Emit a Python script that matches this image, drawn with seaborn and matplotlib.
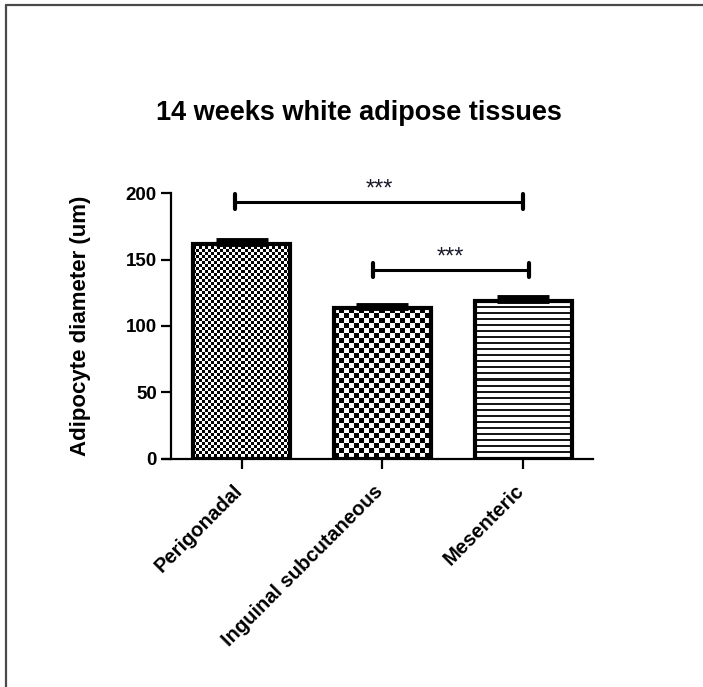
import numpy as np
import pandas as pd
import matplotlib
matplotlib.use("Agg")
import matplotlib.pyplot as plt
from matplotlib.lines import Line2D
from matplotlib.transforms import ScaledTranslation
import seaborn as sns

# Mean adipocyte diameter (um) and SEM per depot
tissues = ["Perigonadal", "Inguinal subcutaneous", "Mesenteric"]
diameter_mean = [162.0, 113.5, 119.0]
diameter_sem = [2.5, 2.0, 2.8]
patterns = ["fine_check", "coarse_check", "hstripe"]

# Significance brackets: (left x, right x, height, label)
brackets = [(-0.05, 2.0, 193.5, "***"), (0.93, 2.04, 142.0, "***")]

sns.set_theme(style="white")
plt.rcParams["font.family"] = ["Liberation Sans", "DejaVu Sans"]
plt.rcParams["font.weight"] = "bold"
for key in ("text.color", "axes.labelcolor", "xtick.color", "ytick.color"):
    plt.rcParams[key] = "black"

fig = plt.figure(figsize=(7.03, 6.87), dpi=100)
ax = fig.add_axes([0.243, 0.332, 0.601, 0.387])

df = pd.DataFrame({"tissue": tissues, "diameter": diameter_mean})
sns.barplot(data=df, x="tissue", y="diameter", ax=ax, width=0.69,
            color="white", edgecolor="black", linewidth=3, errorbar=None,
            zorder=3)

ax.set_xlim(-0.505, 2.5)
ax.set_ylim(0, 200)
ax.set_yticks([0, 50, 100, 150, 200])

fig.canvas.draw()


def pattern_array(kind, h, w):
    yy, xx = np.mgrid[0:h, 0:w]
    if kind == "fine_check":
        c = 3
        return (((xx // c) + (yy // c)) % 2).astype(float)
    if kind == "coarse_check":
        c = 5
        return (((xx // c) + (yy // c)) % 2).astype(float)
    # horizontal stripes: 2 px dark every 6 px
    return ((yy % 6) < 2).astype(float) * 0.9


for bar, kind in zip(ax.patches, patterns):
    x0, y0 = bar.get_x(), bar.get_y()
    x1, y1 = x0 + bar.get_width(), y0 + bar.get_height()
    (px0, py0), (px1, py1) = ax.transData.transform([(x0, y0), (x1, y1)])
    w = max(int(round(px1 - px0)), 1)
    h = max(int(round(py1 - py0)), 1)
    arr = pattern_array(kind, h, w)
    im = ax.imshow(arr, cmap="gray_r", vmin=0, vmax=1, extent=(x0, x1, y0, y1),
                   origin="upper", interpolation="nearest", aspect="auto",
                   zorder=2)
    im.set_clip_path(bar)
    bar.set_facecolor("none")

ax.set_xlim(-0.505, 2.5)
ax.set_ylim(0, 200)

# Upper SEM whiskers
ax.errorbar(range(len(tissues)), diameter_mean,
            yerr=[np.zeros(len(diameter_sem)), diameter_sem],
            fmt="none", ecolor="black", elinewidth=3, capsize=19,
            capthick=3.5, zorder=4)

for xl, xr, yb, lab in brackets:
    ax.plot([xl, xr], [yb, yb], color="black", lw=2.2, clip_on=False,
            solid_capstyle="butt", zorder=5)
    for xe in (xl, xr):
        ax.plot([xe, xe], [yb - 5.5, yb + 5.5], color="black", lw=3,
                clip_on=False, solid_capstyle="round", zorder=5)
    ax.text((xl + xr) / 2, yb + 1, lab, ha="center", va="bottom",
            fontsize=17, fontweight="normal", color="#1a1a2a")

sns.despine(ax=ax)
for side in ("left", "bottom"):
    ax.spines[side].set_linewidth(1.6)
    ax.spines[side].set_color("black")
ax.spines["bottom"].set_bounds(-0.56, 2.5)

ax.tick_params(axis="y", direction="out", length=7, width=1.6, pad=3,
               labelsize=13.5, left=True)
ax.tick_params(axis="x", direction="out", length=7, width=1.6, pad=12,
               labelsize=14.5, bottom=True)
for t in ax.get_yticklabels():
    t.set_fontweight("bold")
ax.set_xticks(range(len(tissues)))
ax.set_xticklabels(tissues, rotation=45, ha="right", rotation_mode="anchor",
                   fontweight="bold")
shift = ScaledTranslation(-9 / 100, 4 / 100, fig.dpi_scale_trans)
for t in ax.get_xticklabels():
    t.set_transform(t.get_transform() + shift)
ax.set_xlabel("")
ax.set_ylabel("Adipocyte diameter (um)", fontsize=16, fontweight="bold",
              labelpad=25)
fig.text(0.51, 0.835, "14 weeks white adipose tissues", ha="center",
         va="center", fontsize=19.5, fontweight="bold")

# Frame lines along the top and left edge of the figure
fig.add_artist(Line2D([0.008, 1.0], [0.992, 0.992], color="#4a4a4a", lw=1.6))
fig.add_artist(Line2D([0.008, 0.008], [0.0, 0.992], color="#4a4a4a", lw=1.6))

fig.savefig("out.png", dpi=100, facecolor="white")
